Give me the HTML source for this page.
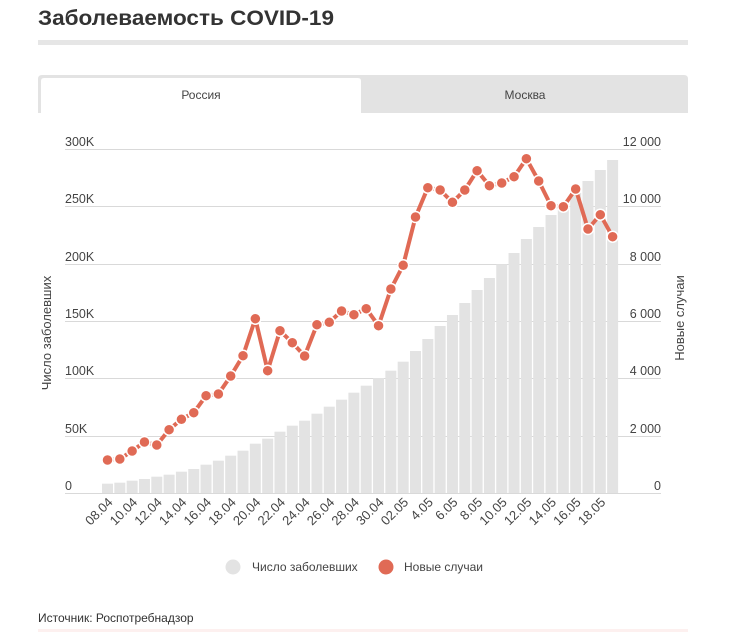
<!DOCTYPE html>
<html><head><meta charset="utf-8"><style>
html,body{margin:0;padding:0;background:#fff;width:732px;height:632px;overflow:hidden}
svg{display:block;font-family:"Liberation Sans",sans-serif}
</style></head><body>
<svg width="732" height="632" viewBox="0 0 732 632">
<text x="38" y="25" font-size="21" font-weight="bold" fill="#333" textLength="296" lengthAdjust="spacingAndGlyphs">Заболеваемость COVID-19</text>
<rect x="38" y="40" width="650" height="5" fill="#e6e6e6"/>
<path d="M38 113 V79 Q38 75 42 75 H684 Q688 75 688 79 V113 Z" fill="#e3e3e3"/>
<path d="M41 113 V81 Q41 78 44 78 H358 Q361 78 361 81 V113 Z" fill="#fff"/>
<text x="201" y="99" font-size="12" fill="#444" text-anchor="middle">Россия</text>
<text x="525" y="99" font-size="12" fill="#444" text-anchor="middle">Москва</text>
<g stroke="#d9d9d9" stroke-width="1">
<line x1="65" x2="661" y1="149.5" y2="149.5"/><line x1="65" x2="661" y1="206.5" y2="206.5"/>
<line x1="65" x2="661" y1="264.5" y2="264.5"/><line x1="65" x2="661" y1="321.5" y2="321.5"/>
<line x1="65" x2="661" y1="378.5" y2="378.5"/><line x1="65" x2="661" y1="436.5" y2="436.5"/>
<line x1="65" x2="661" y1="493.5" y2="493.5"/>
</g>
<g font-size="12.5" fill="#444">
<text x="65" y="146">300K</text><text x="65" y="203">250K</text><text x="65" y="261">200K</text>
<text x="65" y="318">150K</text><text x="65" y="375">100K</text><text x="65" y="433">50K</text><text x="65" y="490">0</text>
</g>
<g font-size="12.5" fill="#444" text-anchor="end">
<text x="661" y="146">12 000</text><text x="661" y="203">10 000</text><text x="661" y="261">8 000</text>
<text x="661" y="318">6 000</text><text x="661" y="375">4 000</text><text x="661" y="433">2 000</text><text x="661" y="490">0</text>
</g>
<text transform="translate(51,333) rotate(-90)" font-size="13" fill="#444" text-anchor="middle">Число заболевших</text>
<text transform="translate(684,318) rotate(-90)" font-size="13" fill="#444" text-anchor="middle">Новые случаи</text>
<g id="bars" fill="#e3e3e3"></g>
<g id="xl" font-size="13" fill="#444"></g>
<polyline id="ln" fill="none" stroke="#e06a55" stroke-width="4" stroke-linejoin="round"/>
<g id="dots" fill="#e06a55" stroke="#fff" stroke-width="1.5"></g>
<circle cx="233" cy="567" r="7.5" fill="#e3e3e3"/>
<text x="252" y="571" font-size="12" fill="#444">Число заболевших</text>
<circle cx="386" cy="567" r="7.5" fill="#e06a55"/>
<text x="404" y="571" font-size="12" fill="#444">Новые случаи</text>
<text x="38" y="622" font-size="12" fill="#333">Источник: Роспотребнадзор</text>
<rect x="38" y="629" width="650" height="3" fill="#fdf0ef"/>
</svg>
<script>
var tops=[483.7,482.7,480.7,479,476.7,474.7,471.7,469,464.7,460.7,455.7,450.7,443.7,438.7,431.7,425.7,420.7,413.7,406.7,399.7,392.7,385.7,378,370.7,361.7,351,339,326,315,303,290,278,264.3,253,239,227,215,206,193,181,170,160];
var ly=[460,459,451,442,445,429.7,419.3,412.7,395.7,394,376,355.7,318.7,370.7,330.7,342.7,356,324.7,322.3,311,314.7,308.7,325.7,289,265.3,217,187.7,190,202.3,190,170.7,185.7,183,176.7,158.7,181,205.7,206.7,189,229,214.7,236.7];
var labs=["08.04","10.04","12.04","14.04","16.04","18.04","20.04","22.04","24.04","26.04","28.04","30.04","02.05","4.05","6.05","8.05","10.05","12.05","14.05","16.05","18.05"];
var NS="http://www.w3.org/2000/svg",b=document.getElementById("bars"),d=document.getElementById("dots"),xl=document.getElementById("xl"),pts=[];
for(var i=0;i<42;i++){var x=102+i*12.32;var r=document.createElementNS(NS,"rect");r.setAttribute("x",x);r.setAttribute("y",tops[i]);r.setAttribute("width",11);r.setAttribute("height",493-tops[i]);b.appendChild(r);
var cx=x+5.5;pts.push(cx+","+ly[i]);var c=document.createElementNS(NS,"circle");c.setAttribute("cx",cx);c.setAttribute("cy",ly[i]);c.setAttribute("r",5.5);d.appendChild(c);
if(i%2==0){var t=document.createElementNS(NS,"text");t.setAttribute("transform","translate("+(cx+6)+",503) rotate(-45)");t.setAttribute("text-anchor","end");t.textContent=labs[i/2];xl.appendChild(t);}}
document.getElementById("ln").setAttribute("points",pts.join(" "));
</script>
</body></html>
